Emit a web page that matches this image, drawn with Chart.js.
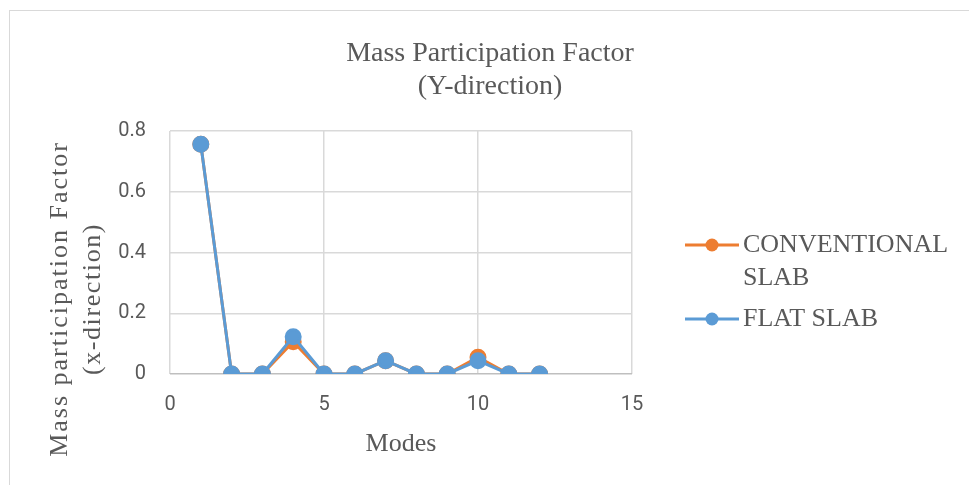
<!DOCTYPE html>
<html><head><meta charset="utf-8">
<script src="https://cdn.jsdelivr.net/npm/chart.js@4.4.0/dist/chart.umd.min.js"></script>
<style>
html,body{margin:0;padding:0;background:#fff;}
#wrap{position:absolute;left:9px;top:10px;width:970px;height:485px;border:1px solid #d9d9d9;box-sizing:border-box;}
#c{position:absolute;left:0;top:0;}
</style></head><body>
<div id="wrap"><canvas id="c" width="960" height="475"></canvas></div>
<script>
const modes = [1,2,3,4,5,6,7,8,9,10,11,12];
const conventionalSlab = [0.757,0,0,0.106,0,0,0.044,0,0,0.055,0,0];
const flatSlab = [0.757,0,0,0.123,0,0,0.044,0,0,0.044,0,0];
const seriesNames = [["CONVENTIONAL","SLAB"],["FLAT SLAB"]];
const yTitleLines = ['Mass participation Factor','(x-direction)'];
const yTicks = [0,0.2,0.4,0.6,0.8];
const xTicks = [0,5,10,15];
const serif = "'Liberation Serif','Times New Roman',serif";
const sans = "Roboto,'Liberation Sans',sans-serif";
const colors = ['#ed7d31','#5b9bd5'];
const textColor = '#595959';

const extrasPlugin = {
  id:'extras',
  afterDraw(chart){
    const ctx = chart.ctx;
    // legend
    ctx.save();
    ctx.font = "26px "+serif;
    ctx.textBaseline = 'middle';
    const x0 = 675, ys = [234, 308];
    seriesNames.forEach((lines,i)=>{
      const y = ys[i];
      ctx.strokeStyle = colors[i]; ctx.lineWidth = 3;
      ctx.beginPath(); ctx.moveTo(x0,y); ctx.lineTo(x0+54,y); ctx.stroke();
      ctx.fillStyle = colors[i];
      ctx.beginPath(); ctx.arc(x0+27,y,6.5,0,Math.PI*2); ctx.fill();
      ctx.fillStyle = textColor;
      lines.forEach((t,j)=>ctx.fillText(t,x0+58,y+j*33));
    });
    ctx.restore();
    // y axis title (rotated, letter-spaced)
    ctx.save();
    ctx.font = "26px "+serif;
    ctx.fillStyle = textColor;
    ctx.textAlign = 'center';
    ctx.textBaseline = 'middle';
    const spacing = ['2px','1.6px'];
    const xs = [50, 83];
    yTitleLines.forEach((t,i)=>{
      ctx.save();
      ctx.translate(xs[i], 288);
      ctx.rotate(-Math.PI/2);
      ctx.letterSpacing = spacing[i];
      ctx.fillText(t,0,0);
      ctx.restore();
    });
    ctx.restore();
  }
};

new Chart(document.getElementById('c'),{
  type:'scatter',
  data:{datasets:[
    {label:'CONVENTIONAL SLAB',order:1,data:modes.map((m,i)=>({x:m,y:conventionalSlab[i]})),showLine:true,borderColor:colors[0],backgroundColor:colors[0],borderWidth:3,pointRadius:7,pointHoverRadius:7},
    {label:'FLAT SLAB',order:0,data:modes.map((m,i)=>({x:m,y:flatSlab[i]})),showLine:true,borderColor:colors[1],backgroundColor:colors[1],borderWidth:3,pointRadius:7,pointHoverRadius:7}
  ]},
  plugins:[extrasPlugin],
  options:{
    responsive:false,animation:false,
    layout:{padding:0},
    plugins:{
      legend:{display:false},tooltip:{enabled:false},
      title:{display:true,text:['Mass Participation Factor','(Y-direction)'],color:textColor,font:{family:serif,size:28,weight:'normal',lineHeight:1.18},padding:{top:26,bottom:28}}
    },
    scales:{
      x:{type:'linear',min:0,max:15,
        afterBuildTicks(s){s.ticks=xTicks.map(v=>({value:v}));},
        afterFit(s){s.height=112;},
        grid:{color:'#d9d9d9',lineWidth:1.5,drawTicks:false},border:{display:false},
        ticks:{color:textColor,font:{family:sans,size:20},padding:19},
        title:{display:true,text:'Modes',color:textColor,font:{family:serif,size:26,lineHeight:1.2},padding:{bottom:26}}
      },
      y:{min:0,max:0.8,
        afterBuildTicks(s){s.ticks=yTicks.map(v=>({value:v}));},
        afterFit(s){s.width=160;},
        grid:{color:(c)=>c.tick&&c.tick.value===0?'#bfbfbf':'#d9d9d9',lineWidth:1.5,drawTicks:false},border:{display:false},
        ticks:{color:textColor,font:{family:sans,size:20},padding:24,callback:v=>String(v)},
        title:{display:false,text:yTitleLines}
      },
      yRight:{position:'right',min:0,max:1,
        afterFit(s){s.width=338;},
        grid:{display:false},border:{display:false},ticks:{display:false}
      }
    }
  }
});
</script>
</body></html>
